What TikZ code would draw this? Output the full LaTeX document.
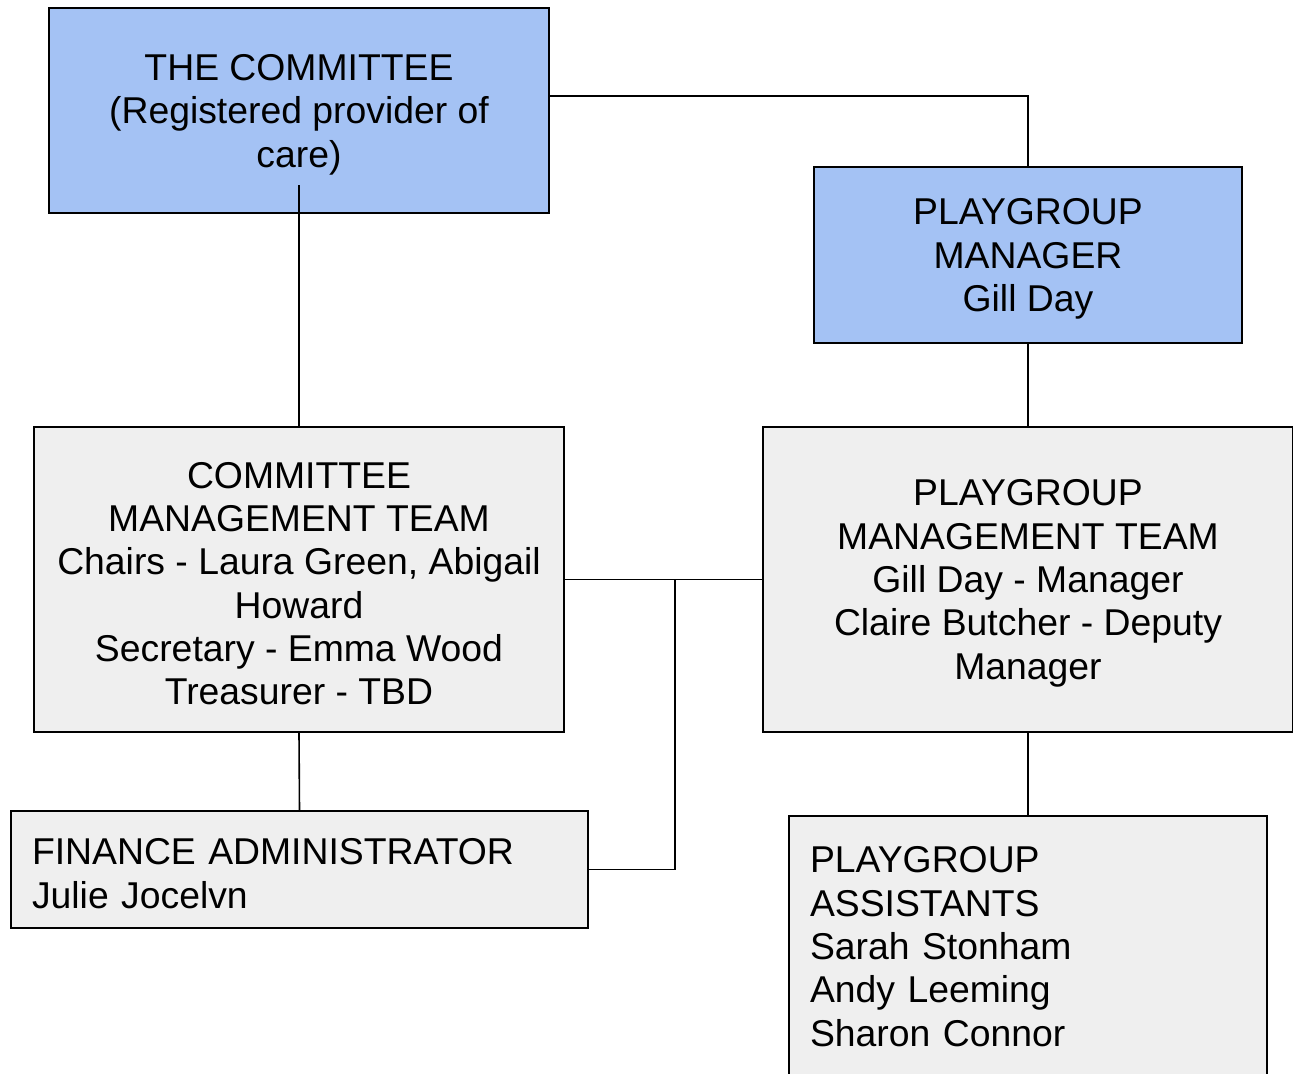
\documentclass[tikz,border=0pt]{standalone}
\usepackage{fontspec}
\setmainfont{Liberation Sans}
\usepackage{tikz}
\definecolor{boardBlue}{RGB}{164,194,244}
\definecolor{teamGrey}{RGB}{239,239,239}
\newcommand{\px}{0.75pt}
\tikzstyle{orgChart} = [x = \px, y = -\px, every node/.style={font=\fontsize{28}{32.5}\selectfont}]
\tikzstyle{boxStyle} = [draw=black, line width=1.2pt, inner sep=0pt]
\tikzstyle{boardBox} = [boxStyle, fill=boardBlue]
\tikzstyle{teamBox} = [boxStyle, fill=teamGrey]
\tikzstyle{centerText} = [align=center, inner sep=0pt, yshift=-3pt]
\tikzstyle{leftText} = [align=left, inner sep=0pt, yshift=-3pt]
\tikzstyle{linkLine} = [color=black, line width=1.2pt]
\newcommand{\orgBox}[7]{
  \node [#1, minimum width=#4*\px, minimum height=#5*\px] (#2) at (#3) {};
  \node [#7] (#2Text) at (#2) {#6};
}

\begin{document}
\begin{tikzpicture}[orgChart]
\useasboundingbox (0,0) rectangle (1293,1074);
\orgBox{boardBox}{committee}{299,110.5}{500}{205}{THE COMMITTEE\\(Registered provider of\\care)}{centerText}
\orgBox{boardBox}{manager}{1028,255}{428}{176}{PLAYGROUP\\MANAGER\\Gill Day}{centerText}
\orgBox{teamBox}{committeeTeam}{299,579.5}{530}{305}{COMMITTEE\\MANAGEMENT TEAM\\Chairs - Laura Green, Abigail\\Howard\\Secretary - Emma Wood\\Treasurer - TBD}{centerText}
\orgBox{teamBox}{playgroupTeam}{1028,579.5}{530}{305}{PLAYGROUP\\MANAGEMENT TEAM\\Gill Day - Manager\\Claire Butcher - Deputy\\Manager}{centerText}
\orgBox{teamBox}{finance}{299.5,869.5}{577}{117}{FINANCE ADMINISTRATOR\\Julie Jocelvn}{leftText, text width=535*\px}
\orgBox{teamBox}{assistants}{1028,956}{478}{280}{PLAYGROUP\\ASSISTANTS\\Sarah Stonham\\Andy Leeming\\Sharon Connor}{leftText, text width=436*\px, yshift=10.1pt}
% connectors
\coordinate (committeeStub) at (299,185);
\coordinate (teamJoin) at (675,579.5);
\draw [linkLine] ([yshift=10.9pt]committee.east) -| (manager.north);
\draw [linkLine] (committeeStub) -- (committeeTeam.north);
\draw [linkLine] (manager.south) -- (playgroupTeam.north);
\draw [linkLine] (committeeTeam.east) -- (playgroupTeam.west);
\draw [linkLine] (finance.east) -| (teamJoin);
\draw [linkLine] (committeeTeam.south) -- (finance.north);
\draw [linkLine] (playgroupTeam.south) -- (assistants.north);
\end{tikzpicture}
\end{document}
